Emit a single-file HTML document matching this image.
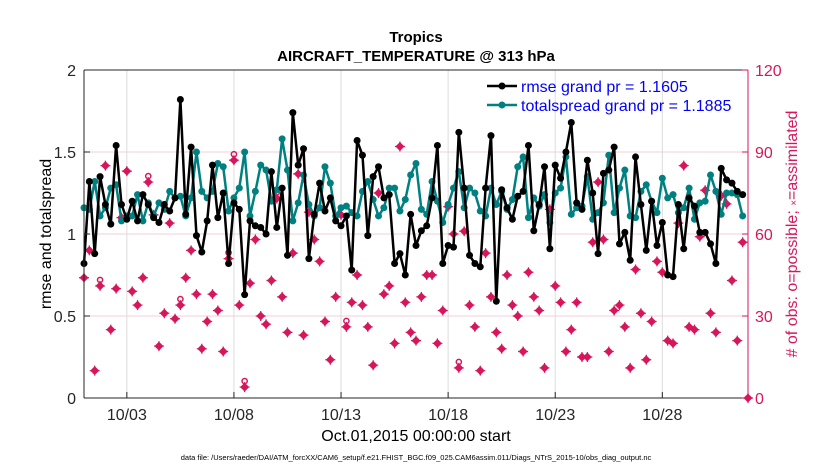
<!DOCTYPE html>
<html><head><meta charset="utf-8"><style>
body{margin:0;background:#fff;}
svg{display:block;font-family:"Liberation Sans",Arial,sans-serif;}
</style></head><body>
<svg id="chart" width="830" height="470" viewBox="0 0 830 470">
<rect x="0" y="0" width="830" height="470" fill="#fff"/>
<g id="grid"></g>
<g id="obs"></g>
<g id="lines"></g>
<g id="axes"></g>
<text x="416" y="42" text-anchor="middle" font-size="15" font-weight="bold">Tropics</text>
<text x="416" y="61" text-anchor="middle" font-size="15" font-weight="bold">AIRCRAFT_TEMPERATURE @ 313 hPa</text>
<text transform="translate(51,234) rotate(-90)" text-anchor="middle" font-size="16">rmse and totalspread</text>
<text transform="translate(797,234) rotate(-90)" text-anchor="middle" font-size="16" fill="#d6175b"># of obs: o=possible; <tspan font-size="10">×</tspan>=assimilated</text>
<text x="416" y="441" text-anchor="middle" font-size="16">Oct.01,2015 00:00:00 start</text>
<text x="416" y="460" text-anchor="middle" font-size="7.5">data file: /Users/raeder/DAI/ATM_forcXX/CAM6_setup/f.e21.FHIST_BGC.f09_025.CAM6assim.011/Diags_NTrS_2015-10/obs_diag_output.nc</text>
<g id="legend">
<line x1="487" y1="86" x2="517" y2="86" stroke="#000" stroke-width="2.5"/>
<circle cx="502" cy="86" r="3.5" fill="#000"/>
<text x="521" y="92" font-size="16" fill="#0000ff">rmse grand pr = 1.1605</text>
<line x1="487" y1="105" x2="517" y2="105" stroke="#008080" stroke-width="2.5"/>
<circle cx="502" cy="105" r="3.5" fill="#008080"/>
<text x="521" y="111" font-size="16" fill="#0000ff">totalspread grand pr = 1.1885</text>
</g>
</svg>
<script>
const rmse=[0.82,1.32,0.88,1.35,1.18,1.06,1.54,1.18,1.09,1.2,1.08,1.24,1.18,1.1,1.07,1.18,1.14,1.22,1.82,1.12,1.53,0.99,0.89,1.08,1.42,1.1,1.25,0.82,1.19,1.15,0.63,1.08,
1.05,1.04,1.0,1.38,1.04,1.28,0.87,1.74,1.42,1.52,0.85,1.12,1.31,1.14,1.22,1.08,1.05,1.11,0.78,1.57,1.48,0.99,1.35,1.41,1.22,1.24,0.82,0.88,0.75,1.12,0.93,
1.02,1.05,1.22,1.54,0.82,0.93,0.92,1.62,1.28,0.87,0.82,0.8,1.28,1.6,0.59,1.27,1.16,1.09,1.23,1.26,1.54,1.02,1.18,1.41,0.91,1.42,1.34,1.5,1.68,1.19,
1.15,1.45,1.25,0.88,1.37,1.39,1.53,0.94,1.01,0.84,1.47,1.18,0.9,1.2,0.93,1.07,0.75,0.74,1.18,0.91,1.22,1.17,1.01,1.01,0.94,0.82,1.4,1.33,1.31,1.26,1.24];
const spread=[1.16,1.15,1.32,1.11,1.16,1.28,1.3,1.08,1.11,1.11,1.24,1.08,1.19,1.11,1.19,1.15,1.26,1.22,1.23,1.11,1.22,1.5,1.26,1.22,1.26,1.43,1.41,1.14,1.22,1.28,1.5,1.11,
1.26,1.42,1.39,1.2,1.27,1.58,1.39,1.08,1.19,1.36,1.18,1.11,1.16,1.41,1.31,1.11,1.16,1.17,1.13,1.11,1.26,1.32,1.21,1.11,1.16,1.28,1.28,1.14,1.21,1.36,1.43,
1.15,1.12,1.32,1.2,1.07,1.18,1.28,1.38,1.16,1.28,1.25,1.14,1.11,1.28,1.18,1.26,1.15,1.21,1.41,1.47,1.1,1.22,1.17,1.24,1.07,1.25,1.28,1.47,1.12,1.16,
1.17,1.35,1.09,1.13,1.19,1.48,1.13,1.28,1.39,1.11,1.1,1.26,1.3,1.2,1.13,1.34,1.22,1.24,1.13,1.16,1.28,1.09,1.19,1.2,1.36,1.26,1.12,1.25,1.25,1.24,1.11];
const nobs=[44,54,10,41,85,25,40,66,83,39,34,44,79,67,19,31,64,29,34,44,54,38,18,28,38,32,17,51,87,34,4,42,
58,30,27,43,73,37,24,53,82,23,68,58,50,28,14,37,67,26,35,45,34,26,12,75,38,41,20,92,35,24,21,
37,45,45,20,32,70,60,11,61,34,26,10,53,37,24,18,45,34,30,17,46,37,32,11,69,41,35,17,25,35,15,
15,57,79,58,17,32,34,26,11,47,31,14,28,50,46,21,20,64,85,26,25,59,76,31,24,74,71,43,21,57,0];
const possibleIdx=[3,12,18,27,28,30,36,49,70];
const xTickLabels=["10/03","10/08","10/13","10/18","10/23","10/28"];
const xTickDays=[2,7,12,17,22,27];
const yTicks=[0,0.5,1,1.5,2];
const yTickLabels=["0","0.5","1","1.5","2"];
const y2Ticks=[0,30,60,90,120];

const NS="http://www.w3.org/2000/svg";
const X0=84,X1=748,Y0=398,Y1=70,DAYS=31;
const xDay=d=>X0+(d/DAYS)*(X1-X0);
const xIdx=i=>xDay(i*0.25);
const yL=v=>Y0-(v/2)*(Y0-Y1);
const yR=v=>Y0-(v/120)*(Y0-Y1);
function mk(tag,attrs,parent){const e=document.createElementNS(NS,tag);for(const k in attrs)e.setAttribute(k,attrs[k]);parent.appendChild(e);return e;}
const grid=document.getElementById('grid'),axes=document.getElementById('axes'),obs=document.getElementById('obs'),lines=document.getElementById('lines');
const CR="#d6175b";
// grid
xTickDays.forEach((d,i)=>{
  const g=mk('line',{x1:xDay(d),x2:xDay(d),y1:Y1,y2:Y0,stroke:'#dcdcdc','stroke-width':1},grid);
  
  
});
y2Ticks.forEach(v=>{
  if(v===0||v===120)return;
  const g=mk('line',{x1:X0,x2:X1,y1:yR(v),y2:yR(v),stroke:'#f0d0dc','stroke-width':1},grid);
  
  
});
// obs markers
function star(cx,cy,parent){
  const g=mk('g',{},parent);
  mk('path',{d:`M${cx-4.5},${cy} L${cx},${cy-4.5} L${cx+4.5},${cy} L${cx},${cy+4.5}Z`,fill:CR},g);
  mk('path',{d:`M${cx-5},${cy}H${cx+5}M${cx},${cy-5}V${cy+5}`,stroke:CR,'stroke-width':1.2},g);
  return g;
}
nobs.forEach((v,i)=>{
  const s=star(xIdx(i),yR(v),obs);
  
  
});
possibleIdx.forEach(i=>{
  const c=mk('circle',{cx:xIdx(i),cy:yR(nobs[i])-6,r:2.6,fill:'none',stroke:CR,'stroke-width':1.5},obs);
  
  
});
// lines
function series(arr,color,name){
  const pts=arr.map((v,i)=>xIdx(i).toFixed(1)+','+yL(v).toFixed(1)).join(' ');
  const pl=mk('polyline',{points:pts,fill:'none',stroke:color,'stroke-width':2.5,'stroke-linejoin':'round'},lines);
  
  
  arr.forEach((v,i)=>{
    const c=mk('circle',{cx:xIdx(i),cy:yL(v),r:3.5,fill:color},lines);
    
    
  });
}
series(spread,'#008080','totalspread');
series(rmse,'#000000','rmse');
// axes
mk('line',{x1:X0,x2:X1,y1:Y1,y2:Y1,stroke:'#262626','stroke-width':1},axes);
mk('line',{x1:X0,x2:X1,y1:Y0,y2:Y0,stroke:'#262626','stroke-width':1},axes);
mk('line',{x1:X0,x2:X0,y1:Y1,y2:Y0,stroke:'#262626','stroke-width':1},axes);
mk('line',{x1:X1,x2:X1,y1:Y1,y2:Y0,stroke:CR,'stroke-width':1},axes);
xTickDays.forEach((d,i)=>{
  mk('line',{x1:xDay(d),x2:xDay(d),y1:Y0,y2:Y0-6,stroke:'#262626'},axes);
  const t=mk('text',{x:xDay(d),y:Y0+22,'text-anchor':'middle','font-size':16,fill:'#262626'},axes);
  t.textContent=xTickLabels[i];
  
  
});
yTicks.forEach((v,i)=>{
  mk('line',{x1:X0,x2:X0+6,y1:yL(v),y2:yL(v),stroke:'#262626'},axes);
  const t=mk('text',{x:X0-8,y:yL(v)+6,'text-anchor':'end','font-size':16,fill:'#262626'},axes);
  t.textContent=yTickLabels[i];
  
  
});
y2Ticks.forEach(v=>{
  mk('line',{x1:X1,x2:X1-6,y1:yR(v),y2:yR(v),stroke:CR},axes);
  const t=mk('text',{x:X1+7,y:yR(v)+6,'font-size':16,fill:CR},axes);
  t.textContent=String(v);
  
  
});
</script>
</body></html>
